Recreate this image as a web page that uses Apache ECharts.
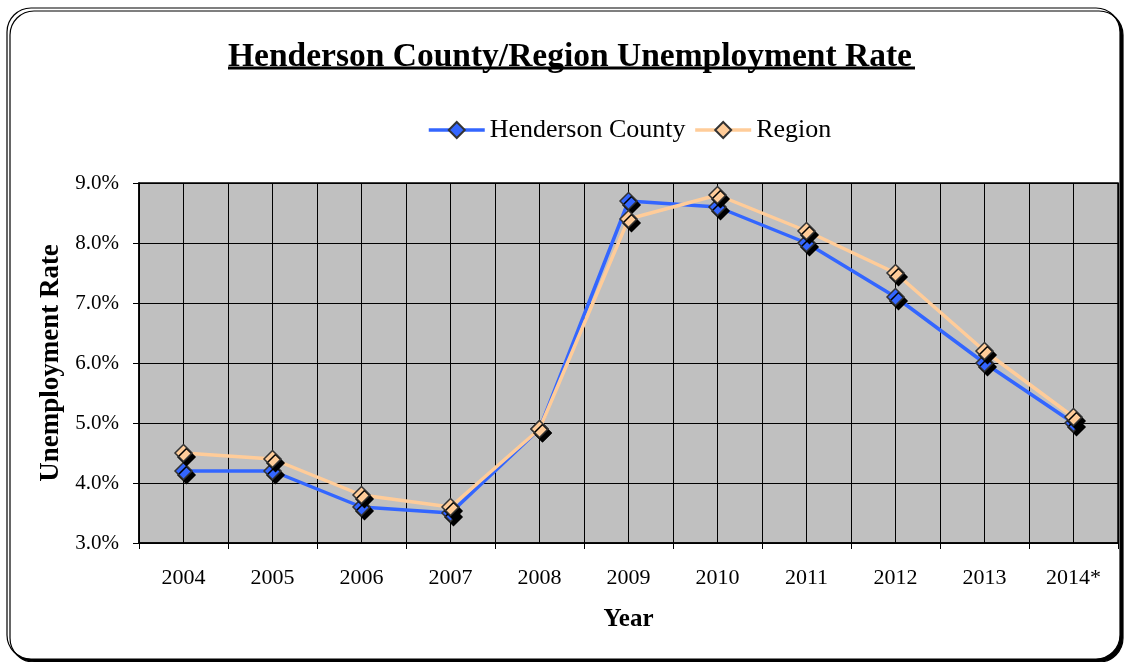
<!DOCTYPE html>
<html>
<head>
<meta charset="utf-8">
<script src="https://cdn.jsdelivr.net/npm/echarts@6/dist/echarts.min.js"></script>
<style>
  html, body { margin: 0; padding: 0; background: #fff; }
  #chart { width: 1128px; height: 662px; }
</style>
</head>
<body>
<div id="chart"></div>
<script>
// data
const years = ['2004', '2005', '2006', '2007', '2008', '2009', '2010', '2011', '2012', '2013', '2014*'];
const henderson = [4.2, 4.2, 3.6, 3.5, 4.9, 8.7, 8.6, 8.0, 7.1, 6.0, 5.0];
const region = [4.5, 4.4, 3.8, 3.6, 4.9, 8.4, 8.8, 8.2, 7.5, 6.2, 5.1];

const serif = '"Liberation Serif", "DejaVu Serif", serif';

// diamond marker with the black drop shadow
function markStyle(color) {
  return {
    color: color,
    borderColor: '#333',
    borderWidth: 1.5,
    shadowColor: '#000',
    shadowBlur: 0,
    shadowOffsetX: 3,
    shadowOffsetY: 4
  };
}

const option = {
  animation: false,
  backgroundColor: '#fff',
  textStyle: { fontFamily: serif, color: '#000' },
  title: {
    text: 'Henderson County/Region Unemployment Rate',
    left: 223,
    top: 35,
    textStyle: { fontFamily: serif, fontSize: 33.5, fontWeight: 'bold', color: '#000' }
  },
  graphic: [
    {
      // rounded frame round the chart
      type: 'rect',
      z: -10,
      shape: { x: 7, y: 8, width: 1113, height: 651, r: 24 },
      style: { fill: '#fff', stroke: '#000', lineWidth: 1.2, shadowColor: '#000', shadowOffsetX: 3, shadowOffsetY: 3, shadowBlur: 0 }
    },
    {
      // underline of the title
      type: 'line',
      shape: { x1: 228, y1: 68, x2: 915, y2: 68 },
      style: { stroke: '#000', lineWidth: 3 }
    }
  ],
  legend: {
    top: 112,
    left: 422,
    itemWidth: 56,
    itemHeight: 20,
    itemGap: 8,
    textStyle: { fontFamily: serif, fontSize: 26, color: '#000' },
    lineStyle: { width: 3.5 },
    itemStyle: { shadowOffsetX: 0, shadowOffsetY: 0, shadowColor: 'transparent' },
    data: ['Henderson County', 'Region']
  },
  grid: { left: 139, right: 10, top: 183, bottom: 119, show: true, backgroundColor: '#c0c0c0', borderColor: '#000', borderWidth: 1.5 },
  xAxis: [
    {
      type: 'category',
      data: years,
      boundaryGap: true,
      name: 'Year',
      nameLocation: 'middle',
      nameGap: 64,
      nameTextStyle: { fontFamily: serif, fontSize: 25, fontWeight: 'bold', color: '#000' },
      axisLine: { lineStyle: { color: '#000', width: 1.5 } },
      axisTick: { show: true, length: 6, lineStyle: { color: '#000' } },
      axisLabel: { fontFamily: serif, fontSize: 22, color: '#000', margin: 24 },
      splitLine: { show: false }
    },
    {
      // half-category grid lines
      type: 'value',
      min: 0,
      max: 22,
      interval: 1,
      show: true,
      position: 'top',
      axisLine: { show: false },
      axisTick: { show: false },
      axisLabel: { show: false },
      splitLine: { show: true, lineStyle: { color: '#000', width: 1 } }
    }
  ],
  yAxis: {
    type: 'value',
    min: 3,
    max: 9,
    interval: 1,
    name: 'Unemployment Rate',
    nameLocation: 'middle',
    nameGap: 72,
    nameRotate: 90,
    nameTextStyle: { fontFamily: serif, fontSize: 27, fontWeight: 'bold', color: '#000' },
    axisLine: { show: true, lineStyle: { color: '#000', width: 1.5 } },
    axisTick: { show: true, length: 6, lineStyle: { color: '#000' } },
    axisLabel: { fontFamily: serif, fontSize: 21, color: '#000', margin: 20, formatter: v => v.toFixed(1) + '%' },
    splitLine: { show: true, lineStyle: { color: '#000', width: 1 } }
  },
  series: [
    {
      name: 'Henderson County',
      type: 'line',
      data: henderson,
      symbol: 'diamond',
      symbolSize: 17,
      lineStyle: { color: '#3366ff', width: 3.5 },
      itemStyle: markStyle('#3366ff'),
      z: 3
    },
    {
      name: 'Region',
      type: 'line',
      data: region,
      symbol: 'diamond',
      symbolSize: 17,
      lineStyle: { color: '#ffcc99', width: 3.5 },
      itemStyle: markStyle('#ffcc99'),
      z: 4
    }
  ]
};

echarts.init(document.getElementById('chart')).setOption(option);
</script>
</body>
</html>
